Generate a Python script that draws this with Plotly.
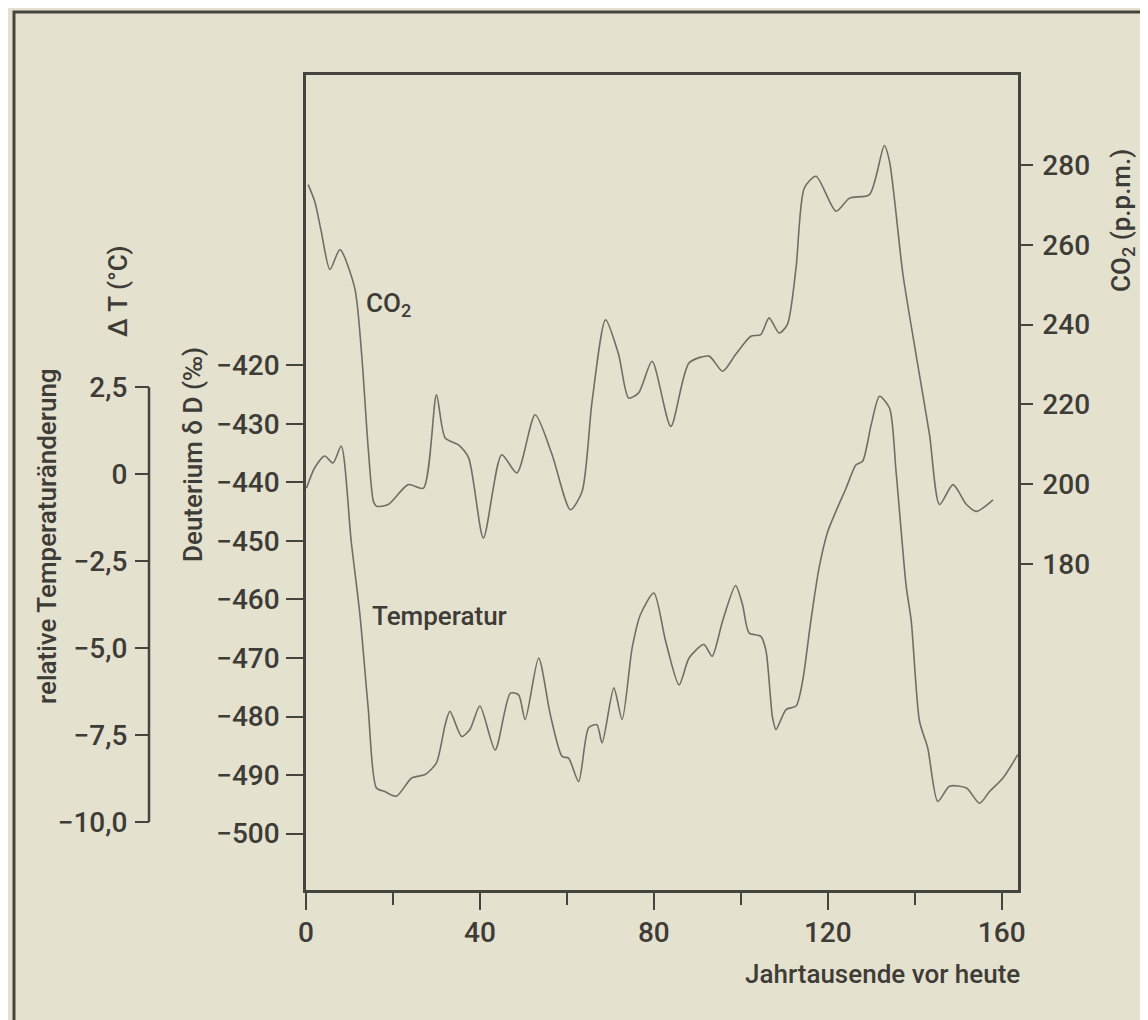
import plotly.graph_objects as go

W, H = 1148, 1020

# ---------------- data ----------------
co2_years = [0.5, 2.0, 3.5, 5.5, 7.8, 11.2, 12.8, 14.3, 15.5, 16.2,
             18.9, 23.5, 27.0, 30.0, 32.0, 35.0, 37.4, 40.8, 45.0, 48.5,
             52.7, 56.6, 60.8, 63.5, 65.8, 68.9, 71.9, 74.2, 76.5, 79.6,
             83.9, 88.1, 92.7, 95.8, 98.8, 102.3, 104.6, 106.5, 108.8, 110.7,
             112.7, 114.6, 117.3, 121.9, 125.0, 129.6, 133.0, 134.2, 137.3, 140.3,
             143.4, 145.7, 148.8, 151.9, 154.2, 158.0]
co2_ppm = [275.1, 270.9, 263.4, 253.8, 258.8, 249.2, 232.5, 209.1, 195.7, 194.5,
           194.9, 199.9, 199.0, 222.4, 211.6, 209.9, 206.6, 186.5, 207.4, 202.8,
           217.4, 207.4, 193.6, 198.2, 220.8, 241.2, 232.5, 221.6, 222.9, 230.8,
           214.5, 230.4, 232.1, 228.3, 232.5, 237.1, 237.5, 241.7, 237.9, 240.0,
           254.2, 274.2, 277.2, 268.4, 271.7, 272.6, 284.9, 280.9, 252.5, 232.5,
           212.4, 194.9, 199.9, 194.9, 193.2, 196.1]

temp_years = [0.1, 2.0, 4.3, 6.2, 8.1, 10.4, 12.4, 14.3, 16.2, 18.1,
              20.8, 24.3, 27.4, 30.0, 32.0, 33.1, 35.8, 37.7, 40.0, 43.5,
              47.0, 48.9, 50.4, 53.5, 56.2, 58.9, 60.4, 62.7, 65.0, 66.9,
              68.1, 70.8, 72.7, 75.0, 76.9, 80.0, 82.7, 85.8, 88.1, 91.5,
              93.4, 95.8, 98.8, 100.4, 101.9, 104.6, 105.8, 107.3, 108.1, 110.4,
              112.7, 114.2, 116.1, 118.0, 120.0, 121.9, 124.2, 126.5, 128.0, 130.0,
              131.9, 134.2, 135.7, 138.0, 139.2, 141.1, 143.0, 145.3, 148.0, 151.9,
              154.9, 157.2, 160.3, 163.7]
deuterium = [-441.0, -437.5, -435.5, -436.7, -433.8, -450.1, -462.6, -478.5, -492.2, -492.8,
             -493.6, -490.5, -489.9, -487.9, -481.4, -479.1, -483.4, -482.2, -478.2, -485.7,
             -476.0, -476.3, -480.5, -470.0, -479.7, -486.8, -487.1, -491.1, -481.9, -481.4,
             -484.5, -475.1, -480.5, -468.3, -462.6, -458.9, -467.1, -474.6, -470.0, -467.7,
             -469.7, -463.7, -457.6, -460.9, -465.7, -466.3, -468.8, -480.2, -482.2, -478.8,
             -478.2, -474.0, -463.7, -454.6, -448.4, -444.9, -441.0, -437.0, -436.4, -430.1,
             -425.3, -427.3, -438.1, -457.5, -463.7, -480.8, -485.4, -494.5, -491.9, -492.2,
             -494.8, -492.8, -490.5, -486.5]

x_ticks = [0, 40, 80, 120, 160]
x_minor = [20, 60, 100, 140]
deut_ticks = [-420, -430, -440, -450, -460, -470, -480, -490, -500]
deut_labels = ["\u2212420", "\u2212430", "\u2212440", "\u2212450", "\u2212460",
               "\u2212470", "\u2212480", "\u2212490", "\u2212500"]
co2_ticks = [180, 200, 220, 240, 260, 280]
temp_ticks = [2.5, 0, -2.5, -5.0, -7.5, -10.0]
temp_labels = ["2,5", "0", "\u22122,5", "\u22125,0", "\u22127,5", "\u221210,0"]

# ---------------- style ----------------
BG = "rgb(229,225,207)"
AX = "rgb(70,68,62)"
TXT = "rgb(62,60,55)"
CURVE = "rgb(112,110,102)"
FONT = "Roboto, DejaVu Sans Condensed, sans-serif"
TICK_SIZE = 28
TITLE_SIZE = 26
FW = 500

px = lambda p: p / W
py = lambda p: 1 - p / H

fig = go.Figure()
fig.add_trace(go.Scatter(x=co2_years, y=co2_ppm, yaxis="y2", mode="lines",
                         line=dict(color=CURVE, width=1.6, shape="spline", smoothing=0.7),
                         hoverinfo="skip", showlegend=False))
fig.add_trace(go.Scatter(x=temp_years, y=deuterium, yaxis="y", mode="lines",
                         line=dict(color=CURVE, width=1.6, shape="spline", smoothing=0.7),
                         hoverinfo="skip", showlegend=False))
fig.add_trace(go.Scatter(x=[], y=[], yaxis="y3", mode="lines", showlegend=False, hoverinfo="skip"))

tfont = dict(size=TICK_SIZE, color=TXT, family=FONT, weight=FW)
common = dict(showgrid=False, zeroline=False, automargin=False, linecolor=AX,
              tickcolor=AX, tickfont=tfont)

TEMP_X = 141

fig.update_layout(
    width=W, height=H, margin=dict(l=0, r=0, t=0, b=0),
    paper_bgcolor=BG, plot_bgcolor=BG, showlegend=False,
    font=dict(family=FONT, color=TXT, size=TICK_SIZE),
    xaxis=dict(domain=[px(298), px(1010)], range=[0, 163.75], anchor="y",
               showline=True, linewidth=2.5, mirror=True,
               ticks="outside", tickvals=x_ticks, ticklen=17, tickwidth=2,
               minor=dict(tickvals=x_minor, ticks="outside", ticklen=12, tickwidth=2,
                          tickcolor=AX, showgrid=False),
               ticklabelstandoff=-1, **common),
    yaxis=dict(domain=[py(882), py(67)], range=[-509.62, -370.42], anchor="x",
               showline=True, linewidth=2.5, ticks="outside", tickvals=deut_ticks,
               ticktext=deut_labels, ticklen=17, tickwidth=2, ticklabelstandoff=1, **common),
    yaxis2=dict(overlaying="y", side="right", anchor="x", range=[98.3, 302.56],
                showline=True, linewidth=2.5, ticks="outside", tickvals=co2_ticks,
                ticklen=12, tickwidth=2, ticklabelstandoff=4, **common),
    yaxis3=dict(overlaying="y", side="left", anchor="free", position=px(TEMP_X),
                range=[-11.954, 11.479], showline=False, ticks="outside",
                tickvals=temp_ticks, ticktext=temp_labels, ticklen=14, tickwidth=2,
                ticklabelstandoff=2, **common),
    shapes=[
        dict(type="line", xref="paper", yref="y3", x0=px(TEMP_X), x1=px(TEMP_X),
             y0=temp_ticks[-1], y1=temp_ticks[0], line=dict(color=AX, width=2.5)),
        dict(type="rect", xref="paper", yref="paper", x0=px(6), x1=px(1160),
             y0=py(1018), y1=py(4), line=dict(color=AX, width=3)),
    ],
    annotations=[
        dict(text="relative Temperaturänderung", x=px(39), y=py(528), textangle=-90),
        dict(text="\u0394 T (°C)", x=px(110), y=py(283), textangle=-90),
        dict(text="Deuterium \u03b4 D (‰)", x=px(185), y=py(447), textangle=-90),
        dict(text="CO<sub>2</sub> (p.p.m.)", x=px(1114), y=py(213), textangle=-90),
        dict(text="Jahrtausende vor heute", x=px(1014), y=py(966), xanchor="right"),
        dict(text="CO<sub>2</sub>", x=px(380), y=py(296)),
        dict(text="Temperatur", x=px(431), y=py(608)),
    ],
)
for a in fig.layout.annotations:
    a.update(xref="paper", yref="paper", showarrow=False,
             font=dict(family=FONT, size=TITLE_SIZE, color=TXT, weight=FW))
    if a.xanchor is None:
        a.update(xanchor="center")
    a.update(yanchor="middle")

fig.write_html("out.html")
